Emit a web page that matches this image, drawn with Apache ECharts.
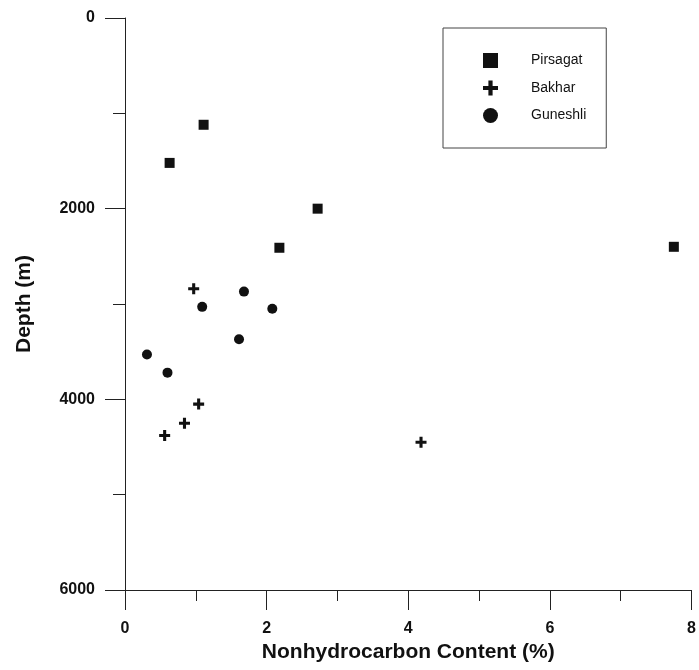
<!DOCTYPE html>
<html>
<head>
<meta charset="utf-8">
<script src="https://cdn.jsdelivr.net/npm/echarts@6/dist/echarts.min.js"></script>
<style>html,body{margin:0;padding:0;background:#fff}#c{width:699px;height:670px}</style>
</head>
<body>
<div id="c"></div>
<script>
// Data
const seriesNames = ['Pirsagat', 'Bakhar', 'Guneshli'];
const pirsagatX = [1.11, 0.63, 2.72, 2.18, 7.75];
const pirsagatY = [1120, 1520, 2000, 2410, 2400];
const bakharX = [0.97, 1.04, 0.84, 0.56, 4.18];
const bakharY = [2840, 4050, 4250, 4380, 4450];
const guneshliX = [1.09, 1.68, 2.08, 1.61, 0.31, 0.60];
const guneshliY = [3030, 2870, 3050, 3370, 3530, 3720];
const xTicks = [0, 2, 4, 6, 8];
const yTicks = [0, 2000, 4000, 6000];

const zip = (a, b) => a.map((v, i) => [v, b[i]]);
const FONT = '"Liberation Sans", Arial, Helvetica, sans-serif';
const plusPath = 'path://M3.6,0H6.4V3.6H10V6.4H6.4V10H3.6V6.4H0V3.6H3.6Z';

const chart = echarts.init(document.getElementById('c'), null, {renderer: 'canvas'});
chart.setOption({
  backgroundColor: '#fff',
  animation: false,
  grid: {left: 125, right: 4, top: 18, bottom: 80, containLabel: false},
  legend: {
    orient: 'vertical',
    left: 443, top: 28,
    padding: [25, 20, 25, 40],
    itemWidth: 15, itemHeight: 15, itemGap: 12.5,
    borderColor: '#444', borderWidth: 1,
    textStyle: {fontFamily: FONT, fontSize: 14, color: '#111', padding: [0, 0, 0, 28]},
    data: [
      {name: seriesNames[0], icon: 'rect'},
      {name: seriesNames[1], icon: plusPath},
      {name: seriesNames[2], icon: 'circle'}
    ]
  },
  xAxis: {
    type: 'value', min: xTicks[0], max: xTicks[xTicks.length - 1], interval: 2,
    name: 'Nonhydrocarbon Content (%)', nameLocation: 'middle', nameGap: 47,
    nameTextStyle: {fontFamily: FONT, fontSize: 21, fontWeight: 'bold', color: '#111'},
    axisLine: {onZero: false, lineStyle: {color: '#222', width: 1}},
    axisTick: {show: true, inside: false, length: 20, lineStyle: {color: '#222'}},
    minorTick: {show: true, splitNumber: 2, length: 11, lineStyle: {color: '#222'}},
    axisLabel: {fontFamily: FONT, fontSize: 16, fontWeight: 'bold', color: '#111', margin: 31,
      formatter: v => String(v)},
    splitLine: {show: false}
  },
  yAxis: {
    type: 'value', inverse: true, min: yTicks[0], max: yTicks[yTicks.length - 1], interval: 2000,
    name: 'Depth (m)', nameLocation: 'middle', nameGap: 90,
    nameTextStyle: {fontFamily: FONT, fontSize: 21, fontWeight: 'bold', color: '#111'},
    axisLine: {show: true, onZero: false, lineStyle: {color: '#222', width: 1}},
    axisTick: {show: true, inside: false, length: 20, lineStyle: {color: '#222'}},
    minorTick: {show: true, splitNumber: 2, length: 12, lineStyle: {color: '#222'}},
    axisLabel: {fontFamily: FONT, fontSize: 16, fontWeight: 'bold', color: '#111', margin: 30,
      formatter: v => String(v)},
    splitLine: {show: false}
  },
  series: [
    {name: seriesNames[0], type: 'scatter', symbol: 'rect', symbolSize: 10,
     itemStyle: {color: '#111', opacity: 1}, data: zip(pirsagatX, pirsagatY)},
    {name: seriesNames[1], type: 'scatter', symbol: plusPath, symbolSize: 11,
     itemStyle: {color: '#111', opacity: 1}, data: zip(bakharX, bakharY)},
    {name: seriesNames[2], type: 'scatter', symbol: 'circle', symbolSize: 10,
     itemStyle: {color: '#111', opacity: 1}, data: zip(guneshliX, guneshliY)}
  ]
});
</script>
</body>
</html>
